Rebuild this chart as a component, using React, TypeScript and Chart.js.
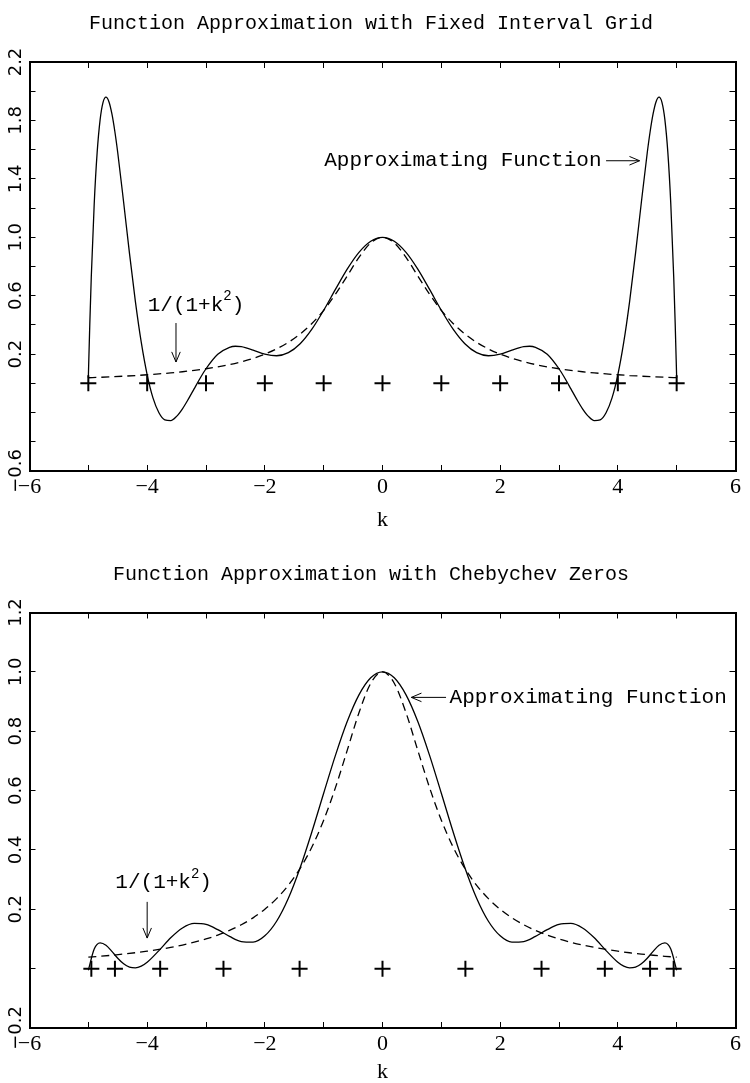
import React, { useEffect, useRef } from 'react';
import { Chart, registerables } from 'chart.js';

Chart.register(...registerables);

const MONO = '"Liberation Mono", "DejaVu Sans Mono", monospace';
const SERIF = '"Liberation Serif", "DejaVu Serif", serif';
const SANS = '"DejaVu Sans", sans-serif';

// ---------- data ----------
const TOP_TITLE = 'Function Approximation with Fixed Interval Grid';
const BOTTOM_TITLE = 'Function Approximation with Chebychev Zeros';

const TOP_K = [-5, -4.975, -4.95, -4.9, -4.85, -4.8, -4.75, -4.7, -4.65, -4.6, -4.55, -4.5, -4.4, -4.3, -4.2, -4.1, -4, -3.9, -3.8, -3.7, -3.6, -3.5, -3.4, -3.3, -3.2, -3.1, -3, -2.8, -2.6, -2.5, -2.4, -2.2, -2, -1.8, -1.6, -1.4, -1.2, -1, -0.8, -0.6, -0.4, -0.2, 0, 0.2, 0.4, 0.6, 0.8, 1, 1.2, 1.4, 1.6, 1.8, 2, 2.2, 2.4, 2.5, 2.6, 2.8, 3, 3.1, 3.2, 3.3, 3.4, 3.5, 3.6, 3.7, 3.8, 3.9, 4, 4.1, 4.2, 4.3, 4.4, 4.5, 4.55, 4.6, 4.65, 4.7, 4.75, 4.8, 4.85, 4.9, 4.95, 4.975, 5];
const TOP_APPROX = [0.0385, 0.4072, 0.726, 1.23, 1.581, 1.804, 1.924, 1.959, 1.928, 1.846, 1.726, 1.579, 1.24, 0.888, 0.56, 0.28, 0.0588, -0.101, -0.201, -0.25, -0.255, -0.226, -0.174, -0.108, -0.036, 0.035, 0.1, 0.199, 0.247, 0.254, 0.251, 0.228, 0.2, 0.189, 0.21, 0.271, 0.371, 0.5, 0.643, 0.782, 0.897, 0.973, 1, 0.973, 0.897, 0.782, 0.643, 0.5, 0.371, 0.271, 0.21, 0.189, 0.2, 0.228, 0.251, 0.254, 0.247, 0.199, 0.1, 0.035, -0.036, -0.108, -0.174, -0.226, -0.255, -0.25, -0.201, -0.101, 0.0588, 0.28, 0.56, 0.888, 1.24, 1.579, 1.726, 1.846, 1.928, 1.959, 1.924, 1.804, 1.581, 1.23, 0.726, 0.4072, 0.0385];

const TRUE_K = [-5, -4.8, -4.6, -4.4, -4.2, -4, -3.8, -3.6, -3.4, -3.2, -3, -2.8, -2.6, -2.4, -2.2, -2, -1.8, -1.6, -1.4, -1.2, -1, -0.8, -0.6, -0.4, -0.2, 0, 0.2, 0.4, 0.6, 0.8, 1, 1.2, 1.4, 1.6, 1.8, 2, 2.2, 2.4, 2.6, 2.8, 3, 3.2, 3.4, 3.6, 3.8, 4, 4.2, 4.4, 4.6, 4.8, 5];
const TRUE_F = [0.0385, 0.0416, 0.0451, 0.0491, 0.0536, 0.0588, 0.0648, 0.0716, 0.0796, 0.089, 0.1, 0.1131, 0.1289, 0.1479, 0.1712, 0.2, 0.2358, 0.2809, 0.3378, 0.4098, 0.5, 0.6098, 0.7353, 0.8621, 0.9615, 1, 0.9615, 0.8621, 0.7353, 0.6098, 0.5, 0.4098, 0.3378, 0.2809, 0.2358, 0.2, 0.1712, 0.1479, 0.1289, 0.1131, 0.1, 0.089, 0.0796, 0.0716, 0.0648, 0.0588, 0.0536, 0.0491, 0.0451, 0.0416, 0.0385];

const CHEB_K = [-5, -4.9, -4.8, -4.7, -4.6, -4.5, -4.4, -4.3, -4.2, -4.1, -4, -3.8, -3.6, -3.4, -3.2, -3, -2.8, -2.6, -2.4, -2.2, -2, -1.8, -1.6, -1.4, -1.2, -1, -0.8, -0.6, -0.4, -0.2, 0, 0.2, 0.4, 0.6, 0.8, 1, 1.2, 1.4, 1.6, 1.8, 2, 2.2, 2.4, 2.6, 2.8, 3, 3.2, 3.4, 3.6, 3.8, 4, 4.1, 4.2, 4.3, 4.4, 4.5, 4.6, 4.7, 4.8, 4.9, 5];
const CHEB_APPROX = [-0.0053, 0.0664, 0.0871, 0.0791, 0.0583, 0.0352, 0.0162, 0.0049, 0.0024, 0.0083, 0.0213, 0.0608, 0.104, 0.1371, 0.1523, 0.1488, 0.1313, 0.1087, 0.0913, 0.0893, 0.1105, 0.1596, 0.2372, 0.34, 0.4611, 0.591, 0.7187, 0.8327, 0.9226, 0.9802, 1, 0.9802, 0.9226, 0.8327, 0.7187, 0.591, 0.4611, 0.34, 0.2372, 0.1596, 0.1105, 0.0893, 0.0913, 0.1087, 0.1313, 0.1488, 0.1523, 0.1371, 0.104, 0.0608, 0.0213, 0.0083, 0.0024, 0.0049, 0.0162, 0.0352, 0.0583, 0.0791, 0.0871, 0.0664, -0.0053];

const TOP_NODES_K = [-5, -4, -3, -2, -1, 0, 1, 2, 3, 4, 5];
const TOP_NODES_Y = [0, 0, 0, 0, 0, 0, 0, 0, 0, 0, 0];
const CHEB_NODES_K = [-4.949, -4.548, -3.779, -2.703, -1.409, 0, 1.409, 2.703, 3.779, 4.548, 4.949];
const CHEB_NODES_Y = [0, 0, 0, 0, 0, 0, 0, 0, 0, 0, 0];

const X_TICK_VALUES = [-6, -5, -4, -3, -2, -1, 0, 1, 2, 3, 4, 5, 6];
const X_TICK_LABELS = ['\u22126', '', '\u22124', '', '\u22122', '', '0', '', '2', '', '4', '', '6'];
const TOP_Y_TICK_VALUES = [-0.6, -0.4, -0.2, 0, 0.2, 0.4, 0.6, 0.8, 1.0, 1.2, 1.4, 1.6, 1.8, 2.0, 2.2];
const TOP_Y_TICK_LABELS = ['\u22120.6', '', '', '', '0.2', '', '0.6', '', '1.0', '', '1.4', '', '1.8', '', '2.2'];
const BOTTOM_Y_TICK_VALUES = [-0.2, 0, 0.2, 0.4, 0.6, 0.8, 1.0, 1.2];
const BOTTOM_Y_TICK_LABELS = ['\u22120.2', '', '0.2', '0.4', '0.6', '0.8', '1.0', '1.2'];

// ---------- annotation placement (data units) ----------
const TOP_TEXTS = [
  { k: -0.99, v: 1.524, align: 'left', parts: [{ text: 'Approximating Function' }] },
  { k: -3.17, v: 0.536, align: 'center', parts: [{ text: '1/(1+k' }, { text: '2', sup: true }, { text: ')' }] },
];
const TOP_ARROWS = [
  { from: [3.8, 1.524], to: [4.37, 1.524] },
  { from: [-3.51, 0.413], to: [-3.51, 0.146] },
];
const BOTTOM_TEXTS = [
  { k: 1.14, v: 0.914, align: 'left', parts: [{ text: 'Approximating Function' }] },
  { k: -3.72, v: 0.289, align: 'center', parts: [{ text: '1/(1+k' }, { text: '2', sup: true }, { text: ')' }] },
];
const BOTTOM_ARROWS = [
  { from: [1.08, 0.914], to: [0.49, 0.914] },
  { from: [-4.0, 0.225], to: [-4.0, 0.103] },
];

const pts = (xs: number[], ys: number[]) => xs.map((x, i) => ({ x, y: ys[i] }));

const yLabelPlugin = {
  id: 'yLabels',
  afterDraw(chart: any, _a: any, opts: any) {
    const scale = chart.scales.y;
    const ctx = chart.ctx;
    ctx.save();
    ctx.font = `18px ${SANS}`;
    ctx.fillStyle = '#000';
    ctx.textAlign = 'center';
    ctx.textBaseline = 'middle';
    scale.ticks.forEach((t: any, i: number) => {
      const lab = opts.labels[i];
      if (!lab) return;
      const y = scale.getPixelForValue(t.value);
      ctx.save();
      ctx.translate(opts.x, y);
      ctx.rotate(-Math.PI / 2);
      ctx.fillText(lab, 0, 0);
      ctx.restore();
    });
    ctx.restore();
  },
};

const notesPlugin = {
  id: 'notes',
  afterDatasetsDraw(chart: any, _a: any, opts: any) {
    const { ctx } = chart;
    const xs = chart.scales.x;
    const ys = chart.scales.y;
    const size = opts.size;
    ctx.save();
    ctx.fillStyle = '#000';
    ctx.strokeStyle = '#000';
    for (const t of opts.texts) {
      let px = xs.getPixelForValue(t.k);
      const py = ys.getPixelForValue(t.v);
      const fontFor = (p: any) => `${p.sup ? Math.round(size * 0.65) : size}px ${MONO}`;
      const widths = t.parts.map((p: any) => {
        ctx.font = fontFor(p);
        return ctx.measureText(p.text).width;
      });
      const total = widths.reduce((a: number, b: number) => a + b, 0);
      if (t.align === 'center') px -= total / 2;
      ctx.textAlign = 'left';
      ctx.textBaseline = 'middle';
      t.parts.forEach((p: any, i: number) => {
        ctx.font = fontFor(p);
        ctx.fillText(p.text, px, p.sup ? py - size * 0.4 : py);
        px += widths[i];
      });
    }
    ctx.lineWidth = 1;
    for (const a of opts.arrows) {
      const x1 = xs.getPixelForValue(a.from[0]);
      const y1 = ys.getPixelForValue(a.from[1]);
      const x2 = xs.getPixelForValue(a.to[0]);
      const y2 = ys.getPixelForValue(a.to[1]);
      ctx.beginPath();
      ctx.moveTo(x1, y1);
      ctx.lineTo(x2, y2);
      ctx.stroke();
      const ang = Math.atan2(y2 - y1, x2 - x1);
      const L = 11;
      const sp = 0.4;
      ctx.beginPath();
      ctx.moveTo(x2 - L * Math.cos(ang - sp), y2 - L * Math.sin(ang - sp));
      ctx.lineTo(x2, y2);
      ctx.lineTo(x2 - L * Math.cos(ang + sp), y2 - L * Math.sin(ang + sp));
      ctx.stroke();
    }
    ctx.restore();
  },
};

function makeConfig(p: any): any {
  const frame = { display: true, color: '#000', width: 2 };
  const grid = { drawOnChartArea: false, tickLength: -6, color: '#000', tickWidth: 1 };
  return {
    type: 'line',
    data: {
      datasets: [
        {
          data: p.approx,
          borderColor: '#000',
          borderWidth: 1.3,
          pointRadius: 0,
          cubicInterpolationMode: 'monotone',
          fill: false,
        },
        {
          data: p.truth,
          borderColor: '#000',
          borderWidth: 1.3,
          borderDash: [8, 5],
          pointRadius: 0,
          cubicInterpolationMode: 'monotone',
          fill: false,
        },
        {
          type: 'scatter',
          data: p.nodes,
          pointStyle: 'cross',
          pointRadius: 8,
          borderWidth: 2,
          borderColor: '#000',
          backgroundColor: '#000',
          showLine: false,
        },
      ],
    },
    plugins: [yLabelPlugin, notesPlugin],
    options: {
      animation: false,
      responsive: false,
      devicePixelRatio: 1,
      layout: { padding: { left: 0, right: 8, top: 0, bottom: 0 } },
      plugins: {
        legend: { display: false },
        tooltip: { enabled: false },
        title: {
          display: true,
          text: p.title,
          color: '#000',
          font: { family: MONO, size: 20, weight: 'normal', lineHeight: 1.2 },
          padding: p.titlePadding,
        },
        yLabels: { labels: p.yLabels, x: 16 },
        notes: { texts: p.texts, arrows: p.arrows, size: 21 },
      },
      scales: {
        x: {
          type: 'linear',
          position: 'bottom',
          min: -6,
          max: 6,
          afterBuildTicks: (s: any) => {
            s.ticks = X_TICK_VALUES.map((v) => ({ value: v }));
          },
          ticks: {
            callback: (_v: any, i: number) => X_TICK_LABELS[i],
            autoSkip: false,
            maxRotation: 0,
            minRotation: 0,
            color: '#000',
            padding: 9,
            font: { family: SERIF, size: 22 },
          },
          grid,
          border: frame,
          title: {
            display: true,
            text: 'k',
            color: '#000',
            font: { family: SERIF, size: 22 },
            padding: { top: 0, bottom: p.kPad },
          },
          afterFit: (s: any) => {
            s.height = p.xHeight;
          },
        },
        x2: {
          type: 'linear',
          position: 'top',
          min: -6,
          max: 6,
          afterBuildTicks: (s: any) => {
            s.ticks = X_TICK_VALUES.map((v) => ({ value: v }));
          },
          ticks: { display: false },
          grid,
          border: frame,
          afterFit: (s: any) => {
            s.height = 0;
          },
        },
        y: {
          type: 'linear',
          position: 'left',
          min: p.yMin,
          max: p.yMax,
          afterBuildTicks: (s: any) => {
            s.ticks = p.yTicks.map((v: number) => ({ value: v }));
          },
          ticks: { display: false },
          grid,
          border: frame,
          afterFit: (s: any) => {
            s.width = 29.5;
          },
        },
        y2: {
          type: 'linear',
          position: 'right',
          min: p.yMin,
          max: p.yMax,
          afterBuildTicks: (s: any) => {
            s.ticks = p.yTicks.map((v: number) => ({ value: v }));
          },
          ticks: { display: false },
          grid,
          border: frame,
          afterFit: (s: any) => {
            s.width = 0;
          },
        },
      },
    },
  };
}

export default function App() {
  const c1 = useRef<HTMLCanvasElement>(null);
  const c2 = useRef<HTMLCanvasElement>(null);

  useEffect(() => {
    const top = new Chart(
      c1.current as HTMLCanvasElement,
      makeConfig({
        title: TOP_TITLE,
        titlePadding: { top: 12, bottom: 26 },
        approx: pts(TOP_K, TOP_APPROX),
        truth: pts(TRUE_K, TRUE_F),
        nodes: pts(TOP_NODES_K, TOP_NODES_Y),
        yMin: -0.6,
        yMax: 2.2,
        yTicks: TOP_Y_TICK_VALUES,
        yLabels: TOP_Y_TICK_LABELS,
        texts: TOP_TEXTS,
        arrows: TOP_ARROWS,
        xHeight: 74,
        kPad: 12,
      })
    );
    const bottom = new Chart(
      c2.current as HTMLCanvasElement,
      makeConfig({
        title: BOTTOM_TITLE,
        titlePadding: { top: 18, bottom: 25.5 },
        approx: pts(CHEB_K, CHEB_APPROX),
        truth: pts(TRUE_K, TRUE_F),
        nodes: pts(CHEB_NODES_K, CHEB_NODES_Y),
        yMin: -0.2,
        yMax: 1.2,
        yTicks: BOTTOM_Y_TICK_VALUES,
        yLabels: BOTTOM_Y_TICK_LABELS,
        texts: BOTTOM_TEXTS,
        arrows: BOTTOM_ARROWS,
        xHeight: 77,
        kPad: 20,
      })
    );
    return () => {
      top.destroy();
      bottom.destroy();
    };
  }, []);

  return (
    <div
      style={{
        position: 'absolute',
        left: 0,
        top: 0,
        width: 750,
        height: 1083,
        overflow: 'hidden',
        background: '#fff',
      }}
    >
      <canvas
        ref={c1}
        width={750}
        height={545}
        style={{ position: 'absolute', left: 0, top: 0, width: 750, height: 545 }}
      />
      <canvas
        ref={c2}
        width={750}
        height={560}
        style={{ position: 'absolute', left: 0, top: 545, width: 750, height: 560 }}
      />
    </div>
  );
}
